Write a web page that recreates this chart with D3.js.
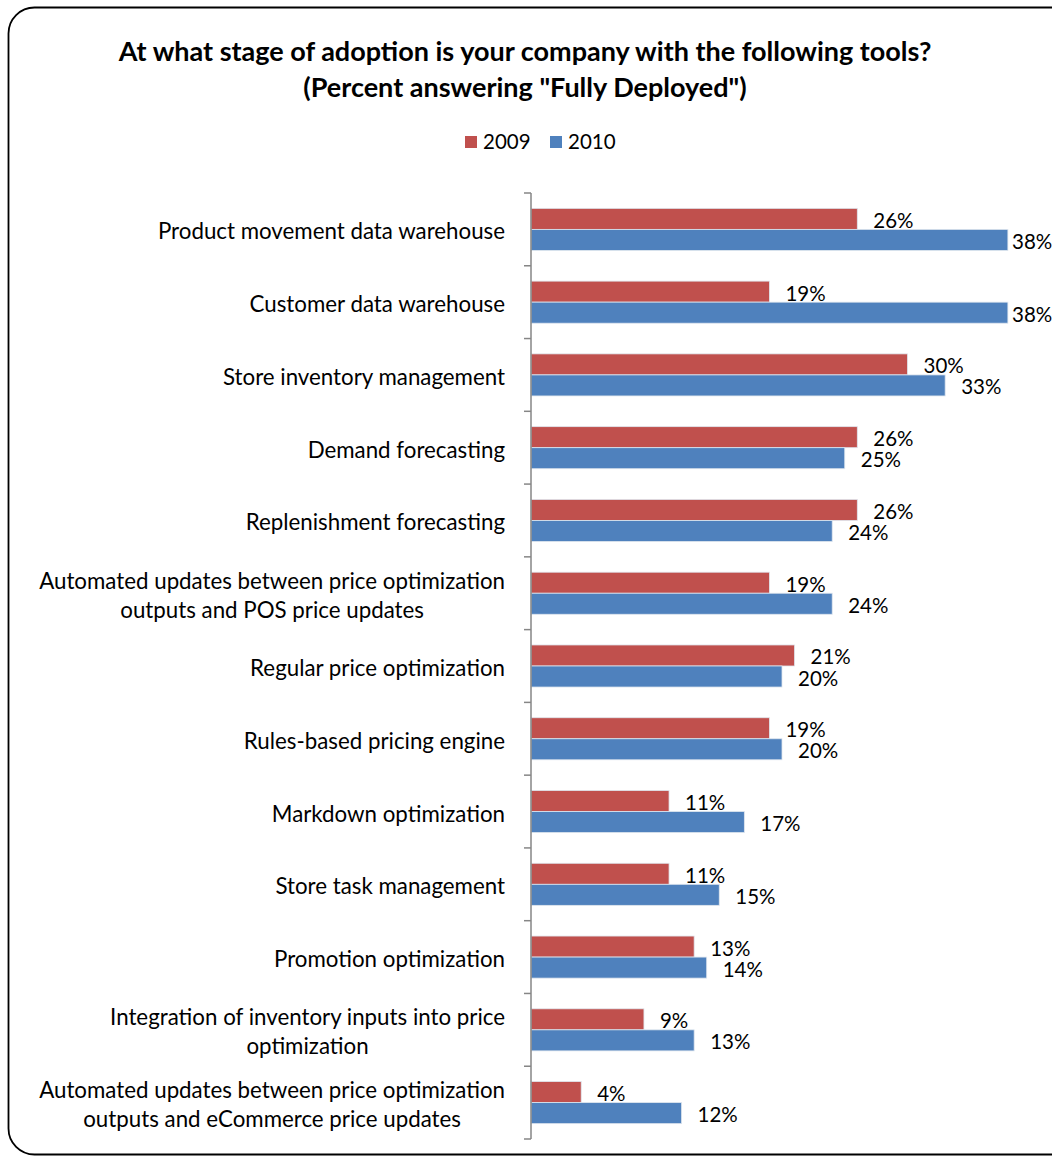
<!DOCTYPE html>
<html>
<head>
<meta charset="utf-8">
<script src="https://cdn.jsdelivr.net/npm/d3@7"></script>
<style>
  body { margin: 0; background: #fff; }
  svg text { font-family: Lato, "Open Sans", sans-serif; fill: #000; }
</style>
</head>
<body>
<svg id="chart" width="1052" height="1161"></svg>
<script>
// data
const categories = [
  "Product movement data warehouse",
  "Customer data warehouse",
  "Store inventory management",
  "Demand forecasting",
  "Replenishment forecasting",
  "Automated updates between price optimization\noutputs and POS price updates",
  "Regular price optimization",
  "Rules-based pricing engine",
  "Markdown optimization",
  "Store task management",
  "Promotion optimization",
  "Integration of inventory inputs into price\noptimization",
  "Automated updates between price optimization\noutputs and eCommerce price updates"
]
const years = ["2009", "2010"]
const values2009 = [26, 19, 30, 26, 26, 19, 21, 19, 11, 11, 13, 9, 4]
const values2010 = [38, 38, 33, 25, 24, 24, 20, 20, 17, 15, 14, 13, 12]
const titleLines = ["At what stage of adoption is your company with the following tools?",
                    "(Percent answering \"Fully Deployed\")"]

const colours = {"2009": "#C0504D", "2010": "#4F81BD"}
const labelSize = 20.5
const catSize = 22.3

let svg = d3.select("#chart")

// frame round the whole chart (runs off the right edge like the original)
svg.append("rect")
    .attr("x", 8.5).attr("y", 7.5)
    .attr("width", 1100).attr("height", 1147)
    .attr("rx", 26)
    .attr("fill", "none")
    .attr("stroke", "#000")
    .attr("stroke-width", 1.8)

svg.append("g").selectAll("text")
    .data(titleLines)
    .enter().append("text")
    .attr("x", 525)
    .attr("y", (d, i) => 61 + i * 36)
    .attr("text-anchor", "middle")
    .style("font-weight", "bold")
    .style("font-size", "27px")
    .text(d => d)

// legend
let legend = svg.append("g")
let lx = [465, 550]
years.forEach((yr, i) => {
    legend.append("rect")
        .attr("x", lx[i]).attr("y", 136)
        .attr("width", 12).attr("height", 12)
        .attr("fill", colours[yr])
    legend.append("text")
        .attr("x", lx[i] + 18).attr("y", 149)
        .style("font-size", labelSize + "px")
        .text(yr)
})

let x = d3.scaleLinear().domain([0, 40]).range([531, 1033])
let y = d3.scaleBand().domain(categories).range([193, 1139])
let ySub = d3.scaleBand().domain(years).range([0, y.bandwidth()]).paddingOuter(0.73)

let rows = categories.map((c, i) => ({cat: c, "2009": values2009[i], "2010": values2010[i]}))

let bars = svg.append("g")
rows.forEach(r => {
    years.forEach(yr => {
        let by = y(r.cat) + ySub(yr)
        bars.append("rect")
            .attr("x", x(0))
            .attr("y", by)
            .attr("width", x(r[yr]) - x(0))
            .attr("height", ySub.bandwidth())
            .attr("fill", colours[yr])
            .attr("stroke", "#dfe6ee")
            .attr("stroke-width", 0.8)
        bars.append("text")
            .attr("x", Math.min(x(r[yr]) + 16, 1012))
            .attr("y", by + ySub.bandwidth() / 2 + 1)
            .attr("dominant-baseline", "central")
            .style("font-size", labelSize + "px")
            .text(r[yr] + "%")
    })
})

// axis: line with ticks on the band edges
let axis = svg.append("g").attr("stroke", "#868686").attr("stroke-width", 1.5)
axis.append("line")
    .attr("x1", x(0)).attr("x2", x(0))
    .attr("y1", y.range()[0]).attr("y2", y.range()[1])
axis.selectAll(".tick")
    .data(categories.map(c => y(c)).concat([y.range()[1]]))
    .enter().append("line")
    .attr("x1", x(0) - 7).attr("x2", x(0))
    .attr("y1", d => d).attr("y2", d => d)

// category labels, multi-line ones centred as a block, block right aligned
let catG = svg.append("g")
categories.forEach(c => {
    let lines = c.split("\n")
    let lh = 29
    let cy = y(c) + y.bandwidth() / 2 + 1
    let t = catG.append("text")
        .style("font-size", catSize + "px")
        .attr("dominant-baseline", "central")
    lines.forEach((l, i) => {
        t.append("tspan")
            .attr("y", cy + (i - (lines.length - 1) / 2) * lh)
            .text(l)
    })
    let maxW = d3.max(t.selectAll("tspan").nodes(), n => n.getComputedTextLength())
    t.attr("text-anchor", "middle")
    t.selectAll("tspan").attr("x", 505 - maxW / 2)
})
</script>
</body>
</html>
